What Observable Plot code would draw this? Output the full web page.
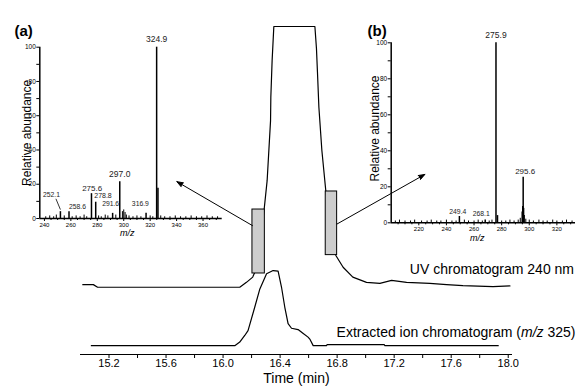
<!DOCTYPE html>
<html>
<head>
<meta charset="utf-8">
<script src="https://cdn.jsdelivr.net/npm/d3@7"></script>
<script src="https://cdn.jsdelivr.net/npm/@observablehq/plot@0.6"></script>
<style>
  html, body { margin: 0; padding: 0; background: white; }
  #chart { position: relative; width: 582px; height: 388px; color: black;
           font-family: "Liberation Sans", Arial, sans-serif; }
  #chart svg { position: absolute; left: 0; top: 0; }
</style>
</head>
<body>
<div id="chart"></div>
<script>
// ---------- Main chromatograms ----------
const uvTime   = [15.016, 15.09, 15.12, 16.117, 16.164, 16.208, 16.243, 16.288, 16.309, 16.333, 16.335, 16.344, 16.356, 16.644, 16.655, 16.662, 16.672, 16.693, 16.721, 16.763, 16.791, 16.842, 16.910, 17.006, 17.100, 17.182, 17.287, 17.45, 17.568, 17.682, 17.893, 18.012];
const uvSignal = [21.3, 21.3, 20.5, 20.5, 22.0, 23.6, 27.1, 44.2, 53.0, 71.3, 78.4, 89.6, 100, 100, 93.3, 86.1, 75.4, 62.2, 49.7, 37.8, 30.2, 26.6, 23.6, 22.0, 21.7, 22.6, 22.0, 21.7, 21.3, 21.0, 20.7, 20.9];

const eicTime   = [15.076, 16.082, 16.117, 16.152, 16.175, 16.222, 16.258, 16.305, 16.351, 16.386, 16.41, 16.433, 16.456, 16.48, 16.526, 16.56, 16.596, 16.61, 16.632, 16.725, 16.73, 17.13, 17.135, 17.93];
const eicSignal = [2.7, 2.7, 3.8, 5.8, 7.3, 14.4, 20.0, 24.6, 25.6, 25.4, 20.5, 14.4, 9.4, 8.0, 7.6, 6.5, 5.3, 4.6, 2.7, 2.7, 3.0, 3.0, 2.7, 2.7];

const timeTicks      = [15.2, 15.6, 16.0, 16.4, 16.8, 17.2, 17.6, 18.0];
const timeTickLabels = ["15.2", "15.6", "16.0", "16.4", "16.8", "17.2", "17.6", "18.0"];
const timeMinorTicks = [15.4, 15.8, 16.2, 16.6, 17.0, 17.4, 17.8];

// sampled windows (grey boxes) and arrows to the spectra
const windowStart = [16.206, 16.72];
const windowEnd   = [16.293, 16.80];
const windowLow   = [24.7, 30.3];
const windowHigh  = [44.2, 49.7];
const arrowFromTime   = [16.206, 16.80];
const arrowFromSignal = [39.3, 39.8];
const arrowToTime     = [15.676, 17.415];
const arrowToSignal   = [52.7, 54.9];

// ---------- Spectrum (a) ----------
const specAMz        = [252.1, 258.6, 275.6, 278.8, 291.6, 297.0, 316.9, 324.9, 325.9];
const specAAbundance = [4, 4, 14.5, 9.5, 3, 21.5, 3, 100, 17.6];
const specALabels    = ["252.1", "258.6", "275.6", "278.8", "291.6", "297.0", "316.9", "324.9", ""];
const noiseAMz        = [241, 244, 247, 249, 255, 261, 264, 267, 270, 272, 281, 283, 286, 288, 294, 299, 300, 301, 302, 304, 307, 310, 313, 320, 322, 328, 331, 335, 339, 343, 347, 351, 355, 359, 363, 367, 371];
const noiseAAbundance = [1, 1.5, 1, 2, 1.5, 1, 1.5, 1, 2, 1, 1.5, 1, 2, 1.5, 2, 4, 5, 3.5, 2, 1.5, 1, 1.5, 1, 1.5, 1, 1.5, 1, 1, 1.5, 1, 1, 1.5, 1, 1, 1.5, 1, 1];
const mzTicksA = [240, 260, 280, 300, 320, 340, 360];

// ---------- Spectrum (b) ----------
const specBMz        = [249.4, 268.1, 275.9, 277.0, 294.9, 295.3, 295.6, 295.9, 296.3];
const specBAbundance = [3.5, 1.5, 100, 4, 6, 9, 25.3, 8, 4];
const specBLabels    = ["249.4", "268.1", "275.9", "", "", "", "295.6", "", ""];
const noiseBMz        = [203, 206, 210, 214, 217, 222, 226, 229, 233, 236, 240, 244, 247, 253, 256, 260, 263, 266, 271, 273, 280, 283, 286, 289, 292, 293.5, 297.5, 300, 303, 307, 310, 313, 317, 320, 324, 327, 331];
const noiseBAbundance = [1, 1.5, 1, 1, 1.5, 1, 1, 1.5, 1, 1, 1.5, 1, 1, 1.5, 1, 1, 1.5, 1, 1, 1.5, 1, 1, 1.5, 1, 1.5, 2.5, 2, 1.5, 1, 1.5, 1, 1, 1.5, 1, 1, 1.5, 1];
const mzTicksB = [220, 240, 260, 280, 300, 320];

const abundanceTicks = [0, 20, 40, 60, 80, 100];
const abundanceMinorTicks = [10, 30, 50, 70, 90];

const uvLabel  = "UV chromatogram 240 nm";
const eicLabel = "Extracted ion chromatogram (m/z 325)";

// ---------- build tables ----------
const uv  = uvTime.map((t, i) => ({t, v: uvSignal[i]}));
const eic = eicTime.map((t, i) => ({t, v: eicSignal[i]}));
const windows = windowStart.map((s, i) => ({x1: s, x2: windowEnd[i], y1: windowLow[i], y2: windowHigh[i]}));
const arrows = arrowFromTime.map((s, i) => ({x1: s, y1: arrowFromSignal[i], x2: arrowToTime[i], y2: arrowToSignal[i]}));
const peaksA = specAMz.map((mz, i) => ({mz, ab: specAAbundance[i], label: specALabels[i]}));
const noiseA = noiseAMz.map((mz, i) => ({mz, ab: noiseAAbundance[i]}));
const peaksB = specBMz.map((mz, i) => ({mz, ab: specBAbundance[i], label: specBLabels[i]}));
const noiseB = noiseBMz.map((mz, i) => ({mz, ab: noiseBAbundance[i]}));

const FONT = '"Liberation Sans", Arial, sans-serif';
const root = document.getElementById("chart");

// ---------- main chart ----------
const main = Plot.plot({
  width: 582, height: 388,
  marginLeft: 80, marginRight: 70, marginTop: 26, marginBottom: 34,
  style: {fontFamily: FONT, background: "white", overflow: "visible"},
  x: {domain: [15.0, 18.03], label: null},
  y: {domain: [0, 100], axis: null, label: null},
  marks: [
    Plot.line(uv,  {x: "t", y: "v", stroke: "black", strokeWidth: 1.2}),
    Plot.line(eic, {x: "t", y: "v", stroke: "black", strokeWidth: 1.2}),
    Plot.rect(windows, {x1: "x1", x2: "x2", y1: "y1", y2: "y2", fill: "#cdcdcd", stroke: "black", strokeWidth: 1}),
    Plot.arrow(arrows, {x1: "x1", y1: "y1", x2: "x2", y2: "y2", stroke: "black", fill: "black", strokeWidth: 1, headLength: 10, headAngle: 40}),
    Plot.ruleY([0], {strokeWidth: 1.2}),
    Plot.axisX({ticks: timeTicks, tickFormat: (d) => timeTickLabels[timeTicks.indexOf(d)], tickSize: 4, tickPadding: 1, fontSize: 11, label: null}),
    Plot.axisX({ticks: timeMinorTicks, tickFormat: () => "", tickSize: 4, label: null}),
    Plot.text(["Time (min)"], {frameAnchor: "bottom", dy: 28, fontSize: 14}),
    Plot.text([uvLabel], {x: 17.31, y: 25.9, textAnchor: "start", fontSize: 14}),
    Plot.text([eicLabel], {x: 16.796, y: 6.8, textAnchor: "start", fontSize: 14})
  ]
});
root.appendChild(main);
for (const t of main.querySelectorAll("text")) {
  if (t.textContent === eicLabel) {
    t.textContent = "";
    const ns = "http://www.w3.org/2000/svg";
    t.appendChild(document.createTextNode("Extracted ion chromatogram ("));
    const it = document.createElementNS(ns, "tspan");
    it.setAttribute("font-style", "italic");
    it.textContent = "m/z";
    t.appendChild(it);
    t.appendChild(document.createTextNode(" 325)"));
  }
}

// ---------- inset helper ----------
function lab(data, name, dx, dy, size) {
  return Plot.text(data.filter((d) => d.label === name), {x: "mz", y: "ab", text: "label", dx, dy, fontSize: size, fill: "#222"});
}

// ---------- inset (a) ----------
const insetA = Plot.plot({
  width: 582, height: 388,
  marginLeft: 39.3, marginRight: 360.3, marginTop: 46.7, marginBottom: 170,
  style: {fontFamily: FONT, background: "transparent", overflow: "visible"},
  x: {domain: [236.5, 374.5], label: null},
  y: {domain: [0, 100], label: null},
  marks: [
    Plot.ruleX(noiseA, {x: "mz", y1: 0, y2: "ab", strokeWidth: 1}),
    Plot.ruleX(peaksA, {x: "mz", y1: 0, y2: "ab", strokeWidth: 1.5}),
    Plot.link(peaksA.filter((d) => d.label === "252.1"), {x1: "mz", y1: (d) => d.ab + 1.2, x2: (d) => d.mz - 3.4, y2: (d) => d.ab + 7.5, strokeWidth: 0.8}),
    Plot.ruleX([236.5], {y1: 0, y2: 100, strokeWidth: 1.5}),
    Plot.ruleY([0], {strokeWidth: 1.5}),
    Plot.axisY({ticks: abundanceTicks, tickSize: 3, tickPadding: 1, fontSize: 6.5, label: null}),
    Plot.axisY({ticks: abundanceMinorTicks, tickFormat: () => "", tickSize: 3, label: null}),
    Plot.axisX({ticks: mzTicksA, tickSize: 3, tickPadding: 1, fontSize: 6, label: null}),
    Plot.axisX({ticks: d3.range(240, 374, 5).filter((v) => v % 20 !== 0), tickFormat: () => "", tickSize: 2, label: null}),
    Plot.text(["Relative abundance"], {frameAnchor: "left", textAnchor: "middle", dx: -12.6, rotate: -90, fontSize: 12}),
    Plot.text(["m/z"], {frameAnchor: "bottom", dx: -3.8, dy: 17.5, fontStyle: "italic", fontSize: 9}),
    Plot.text(["(a)"], {frameAnchor: "top-left", dx: -25.3, dy: -22.2, textAnchor: "start", fontWeight: "bold", fontSize: 15}),
    lab(peaksA, "324.9", 0, -8, 8.5),
    lab(peaksA, "297.0", 0, -7, 8.5),
    lab(peaksA, "275.6", 0.7, -5.5, 8),
    lab(peaksA, "278.8", 7.3, -6.7, 7),
    lab(peaksA, "291.6", -2, -9.6, 6.8),
    lab(peaksA, "316.9", -5.7, -9.6, 6.8),
    lab(peaksA, "258.6", 8.5, -4.4, 6.8),
    lab(peaksA, "252.1", -8.9, -16.8, 6.8)
  ]
});
root.appendChild(insetA);

// ---------- inset (b) ----------
const insetB = Plot.plot({
  width: 582, height: 388,
  marginLeft: 390.7, marginRight: 7, marginTop: 42.3, marginBottom: 165.7,
  style: {fontFamily: FONT, background: "transparent", overflow: "visible"},
  x: {domain: [200, 333.5], label: null},
  y: {domain: [0, 100], label: null},
  marks: [
    Plot.ruleX(noiseB, {x: "mz", y1: 0, y2: "ab", strokeWidth: 1}),
    Plot.ruleX(peaksB, {x: "mz", y1: 0, y2: "ab", strokeWidth: 1.5}),
    Plot.ruleX([200], {y1: 0, y2: 100, strokeWidth: 1.5}),
    Plot.ruleY([0], {strokeWidth: 1.5}),
    Plot.axisY({ticks: abundanceTicks, tickSize: 3, tickPadding: 1, fontSize: 6.5, label: null}),
    Plot.axisY({ticks: abundanceMinorTicks, tickFormat: () => "", tickSize: 3, label: null}),
    Plot.axisX({ticks: mzTicksB, tickSize: 3, tickPadding: 1, fontSize: 6, label: null}),
    Plot.axisX({ticks: d3.range(205, 334, 5).filter((v) => v % 20 !== 0), tickFormat: () => "", tickSize: 2, label: null}),
    Plot.text(["Relative abundance"], {frameAnchor: "left", textAnchor: "middle", dx: -15.7, dy: -4.3, rotate: -90, fontSize: 12}),
    Plot.text(["m/z"], {frameAnchor: "bottom", dx: -6, dy: 18, fontStyle: "italic", fontSize: 9}),
    Plot.text(["(b)"], {frameAnchor: "top-left", dx: -23.7, dy: -17.8, textAnchor: "start", fontWeight: "bold", fontSize: 15}),
    lab(peaksB, "275.9", 0, -7.3, 8.5),
    lab(peaksB, "295.6", 2, -5.5, 8),
    lab(peaksB, "249.4", -1.6, -4.5, 6.8),
    lab(peaksB, "268.1", -4, -6.5, 6.8)
  ]
});
root.appendChild(insetB);
</script>
</body>
</html>
